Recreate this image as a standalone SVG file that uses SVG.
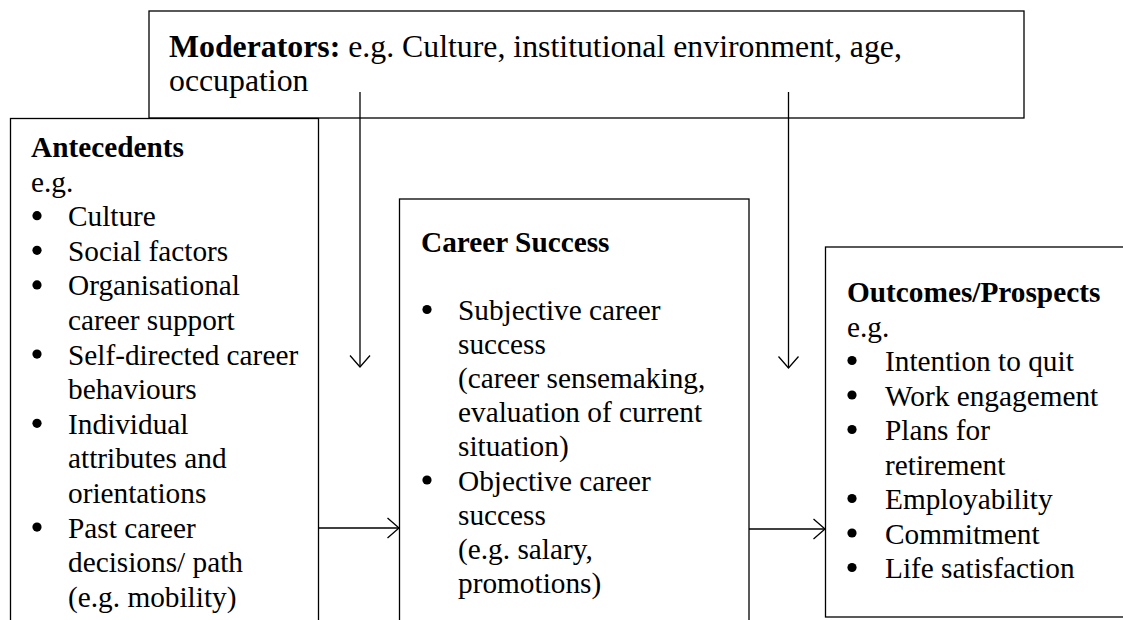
<svg xmlns="http://www.w3.org/2000/svg" width="1123" height="620" viewBox="0 0 1123 620">
  <style>
    .box { fill: #ffffff; stroke: #000000; stroke-width: 1.3; }
    .link { fill: none; stroke: #000000; stroke-width: 1.3; }
    .txt { font-family: "Liberation Serif", "Times New Roman", serif; font-size: 29.3px; fill: #000000; }
    .mod { font-size: 31.8px; }
    .hd { font-weight: bold; }
    .dot { fill: #000000; }
  </style>
  <defs>
    <marker id="open-arrow" viewBox="0 0 13 22" refX="12" refY="11" markerWidth="13" markerHeight="22" markerUnits="userSpaceOnUse" orient="auto">
      <path d="M0.5,1 L12,11 L0.5,21" fill="none" stroke="#000000" stroke-width="1.3"/>
    </marker>
  </defs>

  <rect width="1123" height="620" fill="#ffffff"/>

  <!-- Moderators box across the top -->
  <g id="moderators">
    <rect class="box" x="149" y="11" width="875" height="107"/>
    <text class="txt mod" x="169" y="57"><tspan class="hd">Moderators:</tspan> e.g. Culture, institutional environment, age,</text>
    <text class="txt mod" x="169" y="91">occupation</text>
  </g>

  <!-- Antecedents box, open at the bottom edge -->
  <g id="antecedents">
    <rect class="box" x="10.5" y="118.5" width="308" height="520"/>
    <text class="txt" x="31">
      <tspan class="hd" x="31" y="157">Antecedents</tspan>
      <tspan x="31" y="191.6">e.g.</tspan>
      <tspan x="68" y="226.2">Culture</tspan>
      <tspan x="68" y="260.8">Social factors</tspan>
      <tspan x="68" y="295.4">Organisational</tspan>
      <tspan x="68" y="330">career support</tspan>
      <tspan x="68" y="364.6">Self-directed career</tspan>
      <tspan x="68" y="399.2">behaviours</tspan>
      <tspan x="68" y="433.8">Individual</tspan>
      <tspan x="68" y="468.4">attributes and</tspan>
      <tspan x="68" y="503">orientations</tspan>
      <tspan x="68" y="537.6">Past career</tspan>
      <tspan x="68" y="572.2">decisions/ path</tspan>
      <tspan x="68" y="606.8">(e.g. mobility)</tspan>
    </text>
    <circle class="dot" cx="37" cy="215.7" r="4.6"/>
    <circle class="dot" cx="37" cy="250.3" r="4.6"/>
    <circle class="dot" cx="37" cy="284.9" r="4.6"/>
    <circle class="dot" cx="37" cy="354.1" r="4.6"/>
    <circle class="dot" cx="37" cy="423.3" r="4.6"/>
    <circle class="dot" cx="37" cy="527.1" r="4.6"/>
  </g>

  <!-- Career Success box, open at the bottom edge -->
  <g id="career-success">
    <rect class="box" x="399.5" y="199" width="349.5" height="440"/>
    <text class="txt" x="421">
      <tspan class="hd" x="421" y="252">Career Success</tspan>
      <tspan x="458" y="320">Subjective career</tspan>
      <tspan x="458" y="354.1">success</tspan>
      <tspan x="458" y="388.2">(career sensemaking,</tspan>
      <tspan x="458" y="422.3">evaluation of current</tspan>
      <tspan x="458" y="456.4">situation)</tspan>
      <tspan x="458" y="490.5">Objective career</tspan>
      <tspan x="458" y="524.6">success</tspan>
      <tspan x="458" y="558.7">(e.g. salary,</tspan>
      <tspan x="458" y="592.8">promotions)</tspan>
    </text>
    <circle class="dot" cx="427" cy="309.5" r="4.6"/>
    <circle class="dot" cx="427" cy="480" r="4.6"/>
  </g>

  <!-- Outcomes/Prospects box, running past the right edge -->
  <g id="outcomes">
    <rect class="box" x="825.5" y="247" width="320" height="370"/>
    <text class="txt" x="847">
      <tspan class="hd" x="847" y="302">Outcomes/Prospects</tspan>
      <tspan x="847" y="336.5">e.g.</tspan>
      <tspan x="885" y="371">Intention to quit</tspan>
      <tspan x="885" y="405.5">Work engagement</tspan>
      <tspan x="885" y="440">Plans for</tspan>
      <tspan x="885" y="474.5">retirement</tspan>
      <tspan x="885" y="509">Employability</tspan>
      <tspan x="885" y="543.5">Commitment</tspan>
      <tspan x="885" y="578">Life satisfaction</tspan>
    </text>
    <circle class="dot" cx="852" cy="360.5" r="4.6"/>
    <circle class="dot" cx="852" cy="395" r="4.6"/>
    <circle class="dot" cx="852" cy="429.5" r="4.6"/>
    <circle class="dot" cx="852" cy="498.5" r="4.6"/>
    <circle class="dot" cx="852" cy="533" r="4.6"/>
    <circle class="dot" cx="852" cy="567.5" r="4.6"/>
  </g>

  <!-- Connectors -->
  <g id="connectors">
    <line class="link" x1="360" y1="92" x2="360" y2="367" marker-end="url(#open-arrow)"/>
    <line class="link" x1="788.5" y1="92" x2="788.5" y2="368" marker-end="url(#open-arrow)"/>
    <line class="link" x1="319" y1="528" x2="399" y2="528" marker-end="url(#open-arrow)"/>
    <line class="link" x1="749" y1="529" x2="825" y2="529" marker-end="url(#open-arrow)"/>
  </g>
</svg>
